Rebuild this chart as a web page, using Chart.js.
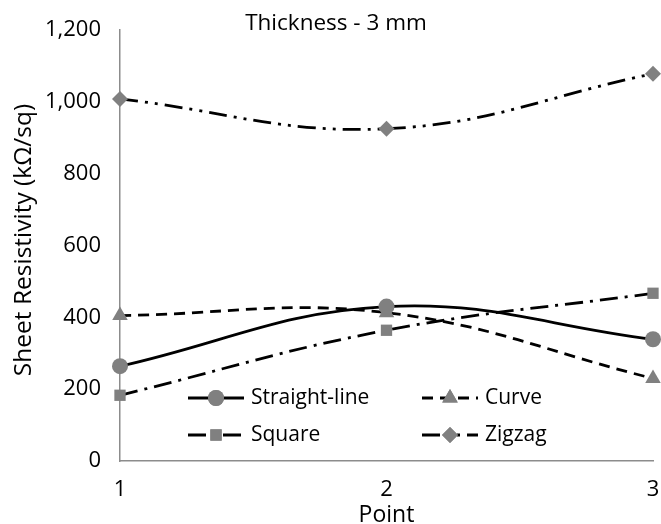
<!DOCTYPE html>
<html>
<head>
<meta charset="utf-8">
<script src="https://cdn.jsdelivr.net/npm/chart.js@4/dist/chart.umd.min.js"></script>
<style>
  html, body { margin: 0; padding: 0; background: #fff; }
  #wrap { width: 661px; height: 524px; }
</style>
</head>
<body>
<div id="wrap"><canvas id="chart"></canvas></div>
<script>
// data
var points = ['1', '2', '3'];
var straightLine = [264, 430, 339];
var curve = [405, 413, 230];
var square = [183, 364, 467];
var zigzag = [1008, 925, 1078];

var chartTitle = 'Thickness - 3 mm';
var yTitle = 'Sheet Resistivity (kΩ/sq)';

var FONT = '"Open Sans", sans-serif';
var GREY = '#808080';

// title and y title placed by hand to sit where the original has them
var titles = {
    id: 'titles',
    afterDraw(chart) {
        var ctx = chart.ctx;
        ctx.save();
        ctx.fillStyle = '#000';
        ctx.textAlign = 'center';
        ctx.textBaseline = 'middle';
        ctx.font = '22.5px ' + FONT;
        ctx.fillText(chartTitle, 336, 24);
        ctx.translate(24, 240);
        ctx.rotate(-Math.PI / 2);
        ctx.font = '24.5px ' + FONT;
        ctx.fillText(yTitle, 0, 0);
        ctx.restore();
    }
};

// legend drawn inside the plot, two columns like the original
var insideLegend = {
    id: 'insideLegend',
    afterDraw(chart) {
        var ctx = chart.ctx;
        var slots = [[188, 398], [422, 398], [188, 435], [422, 435]];
        chart.data.datasets.forEach((ds, i) => {
            var x = slots[i][0], y = slots[i][1];
            ctx.save();
            ctx.strokeStyle = '#000';
            ctx.lineWidth = 2.8;
            ctx.setLineDash(ds.borderDash || []);
            ctx.beginPath();
            ctx.moveTo(x, y);
            ctx.lineTo(x + 56, y);
            ctx.stroke();
            ctx.setLineDash([]);
            Chart.helpers.drawPoint(ctx, {
                pointStyle: ds.pointStyle,
                radius: ds.pointRadius,
                rotation: 0,
                borderWidth: 0
            }, x + 28, y);
            ctx.fillStyle = GREY;
            ctx.fill();
            ctx.fillStyle = '#000';
            ctx.font = '21px ' + FONT;
            ctx.textBaseline = 'middle';
            ctx.fillText(ds.label, x + 63, y);
            ctx.restore();
        });
    }
};

var ctx = document.getElementById('chart').getContext('2d');
var myChart = new Chart(ctx, {
    type: 'line',
    data: {
        labels: points,
        datasets: [
            {
                label: 'Straight-line',
                data: straightLine,
                pointStyle: 'circle',
                pointRadius: 8
            },
            {
                label: 'Curve',
                data: curve,
                borderDash: [11, 7],
                pointStyle: 'triangle',
                pointRadius: 9
            },
            {
                label: 'Square',
                data: square,
                borderDash: [18, 7, 3, 7],
                pointStyle: 'rect',
                pointRadius: 8
            },
            {
                label: 'Zigzag',
                data: zigzag,
                borderDash: [18, 7, 3, 7, 3, 7],
                pointStyle: 'rectRot',
                pointRadius: 8
            }
        ].map(ds => Object.assign({
            borderColor: '#000',
            borderWidth: 2.8,
            backgroundColor: GREY,
            pointBackgroundColor: GREY,
            pointBorderWidth: 0,
            pointHoverRadius: 8,
            tension: 0.4,
            clip: false
        }, ds))
    },
    options: {
        responsive: true,
        maintainAspectRatio: false,
        animation: false,
        layout: { autoPadding: false, padding: { left: 0, right: 8, top: 30, bottom: 0 } },
        scales: {
            x: {
                offset: false,
                grid: { display: false, drawTicks: false },
                border: { color: '#8c8c8c', width: 1.5 },
                ticks: { color: '#000', font: { size: 22, family: FONT }, padding: 16, maxRotation: 0 },
                title: {
                    display: true,
                    text: 'Point',
                    color: '#000',
                    font: { size: 23, family: FONT, lineHeight: 0.75 },
                    padding: { top: 0, bottom: 0 }
                },
                afterFit(scale) {
                    scale.height = 63;
                    scale.paddingLeft = 0;
                    scale.paddingRight = 0;
                }
            },
            y: {
                min: 0,
                max: 1200,
                grid: { display: false, drawTicks: false },
                border: { color: '#8c8c8c', width: 1.5 },
                ticks: { stepSize: 200, color: '#000', font: { size: 22, family: FONT }, padding: 19 },
                afterFit(scale) {
                    scale.width = 120;
                    scale.paddingTop = 0;
                    scale.paddingBottom = 0;
                }
            }
        },
        plugins: {
            legend: { display: false },
            tooltip: { enabled: false },
            title: { display: false }
        }
    },
    plugins: [titles, insideLegend]
});
</script>
</body>
</html>
